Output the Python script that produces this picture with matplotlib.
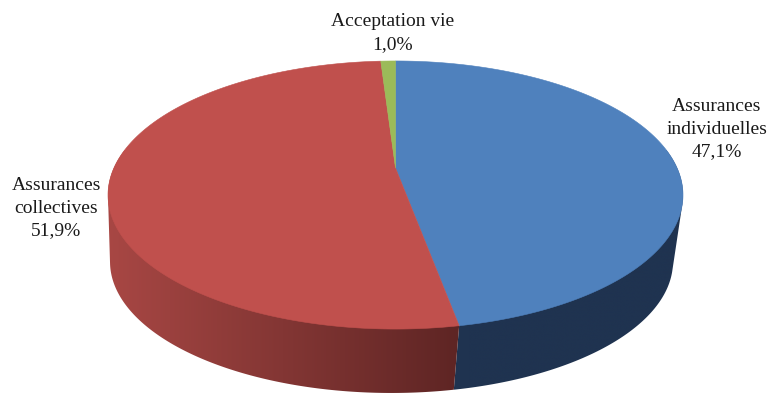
import numpy as np
import matplotlib.pyplot as plt
from matplotlib.colors import to_rgb
from matplotlib.patches import Polygon

# parts of the total (%)
labels = ["Assurances\nindividuelles", "Assurances\ncollectives", "Acceptation vie"]
shares = [47.1, 51.9, 1.0]
top_colors = ["#4f81bd", "#c0504d", "#9bbb59"]
side_light = ["#2b4569", "#a84744", "#7d9a44"]
side_dark = ["#1f3350", "#5c2423", "#5d7333"]

# perspective disc: centre, half axes and foreshortening for top and base
persp = 0.2015
top_geom = dict(cx=395.5, cy=168.0, ax=281.6, by=128.6)
base_geom = dict(cx=391.5, cy=235.3, ax=275.7, by=125.9)

fig = plt.figure(figsize=(7.71, 3.94), dpi=100)
ax = fig.add_axes([0, 0, 1, 1])


def proj(t, g):
    u, v = np.cos(t), np.sin(t)
    w = 1 + persp * v
    return g["cx"] + g["ax"] * u / w, g["cy"] - g["by"] * v / w


def hull(points):
    pts = sorted(set(map(tuple, np.round(points, 3))))

    def cross(o, a, b):
        return (a[0] - o[0]) * (b[1] - o[1]) - (a[1] - o[1]) * (b[0] - o[0])

    lower, upper = [], []
    for p in pts:
        while len(lower) >= 2 and cross(lower[-2], lower[-1], p) <= 0:
            lower.pop()
        lower.append(p)
    for p in reversed(pts):
        while len(upper) >= 2 and cross(upper[-2], upper[-1], p) <= 0:
            upper.pop()
        upper.append(p)
    return lower[:-1] + upper[:-1]


# slice angles, clockwise from the top
angles = []
start = 90.0
for s in shares:
    end = start - s * 3.6
    angles.append((start, end))
    start = end

# side walls of the front half
for (a0, a1), cl, cd in zip(angles, side_light, side_dark):
    lo, hi = min(a0, a1), max(a0, a1)
    for shift in (0, -360):
        s0 = max(lo + shift, -200.0)
        s1 = min(hi + shift, 20.0)
        if s1 <= s0 or s0 > 0 or s1 < -180:
            continue
        ts = np.radians(np.linspace(s0, s1, 300))
        tx, ty = proj(ts, top_geom)
        bx, by = proj(ts, base_geom)
        pts = np.column_stack([np.r_[tx, bx], np.r_[ty, by]])
        wall = Polygon(hull(pts), closed=True, facecolor="none", edgecolor="none")
        ax.add_patch(wall)
        # horizontal shading: lighter on the far left, darker toward the front
        left = top_geom["cx"] - 287.5
        xs = np.linspace(left - 2, left + 579, 600)
        f = np.clip((xs - left) / 360.0, 0, 1)[None, :, None]
        grad = np.array(to_rgb(cl)) * (1 - f) + np.array(to_rgb(cd)) * f
        im = ax.imshow(grad, extent=(xs[0], xs[-1], 396, 150),
                       aspect="auto", interpolation="bilinear")
        im.set_clip_path(wall)

# top faces
for (a0, a1), col in zip(angles, top_colors):
    ts = np.radians(np.linspace(a0, a1, 400))
    xs, ys = proj(ts, top_geom)
    verts = [(top_geom["cx"], top_geom["cy"])] + list(zip(xs, ys))
    ax.add_patch(Polygon(verts, closed=True, facecolor=col,
                         edgecolor=col, linewidth=0.4))

ax.set_xlim(0, 771)
ax.set_ylim(394, 0)
ax.axis("off")

font = dict(family="Liberation Serif", fontsize=14, color="#1a1a1a",
            ha="center", va="center", linespacing=1.42)


def pct(v):
    return f"{v:.1f}%".replace(".", ",")


ax.text(393, 33, f"{labels[2]}\n{pct(shares[2])}", **font)
ax.text(717, 129, f"{labels[0]}\n{pct(shares[0])}", **font)
ax.text(56, 208, f"{labels[1]}\n{pct(shares[1])}", **font)

fig.savefig("out.png", dpi=100)
